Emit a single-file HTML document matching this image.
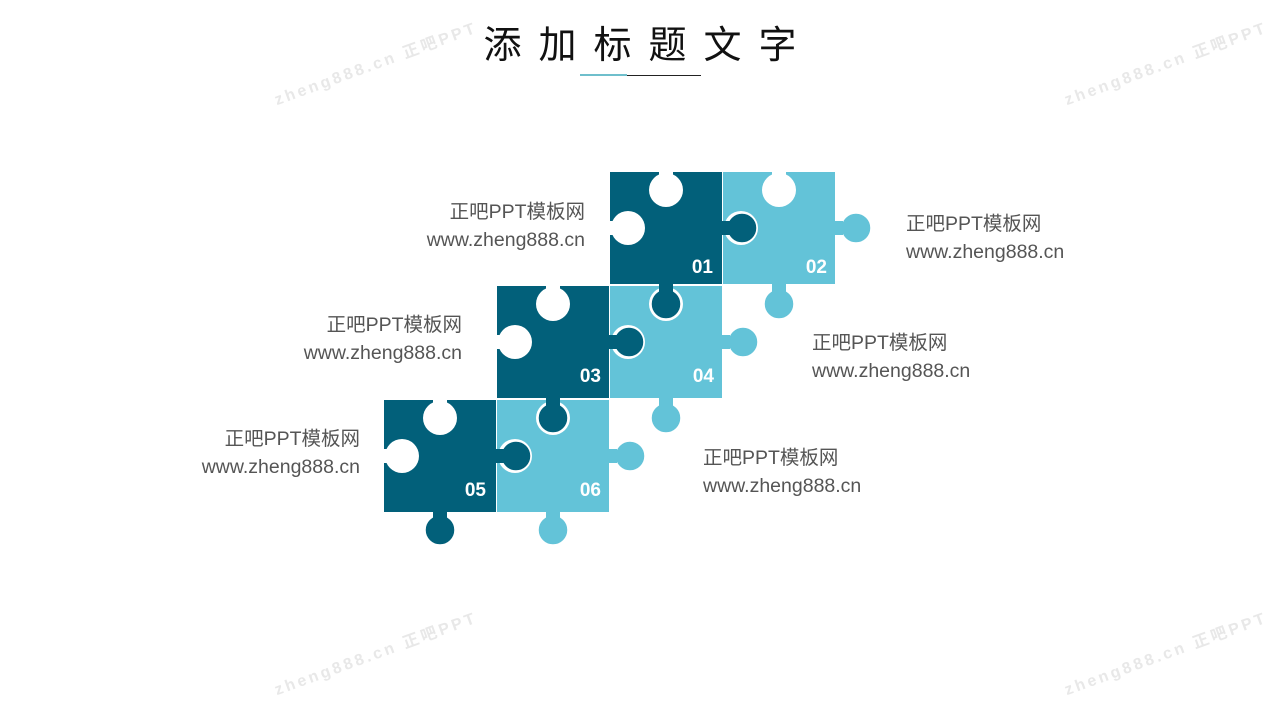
<!DOCTYPE html>
<html><head><meta charset="utf-8"><style>
body{margin:0;width:1280px;height:720px;background:#fff;overflow:hidden;position:relative;font-family:"Liberation Sans","Noto Sans CJK SC",sans-serif}
.t{position:absolute;font-size:19.5px;color:#555;line-height:28px}
.r{text-align:right}
.wm{position:absolute;font-size:16px;color:#e8e8e8;font-weight:bold;letter-spacing:3px;transform:rotate(-20deg);white-space:nowrap}
</style></head><body>
<div class="wm" style="left:268px;top:50px">zheng888.cn 正吧PPT</div>
<div class="wm" style="left:1058px;top:50px">zheng888.cn 正吧PPT</div>
<div class="wm" style="left:268px;top:640px">zheng888.cn 正吧PPT</div>
<div class="wm" style="left:1058px;top:640px">zheng888.cn 正吧PPT</div>
<div style="position:absolute;left:0;width:1280px;top:14px;text-align:center;font-size:38px;letter-spacing:17px;color:#111;padding-left:17px;box-sizing:border-box">添加标题文字</div>
<div style="position:absolute;left:580px;top:74px;width:47px;height:2px;background:#6fbfcc"></div>
<div style="position:absolute;left:627px;top:75px;width:74px;height:1px;background:#222"></div>
<svg width="1280" height="720" style="position:absolute;left:0;top:0">
<g>
<rect x="610" y="172" width="112" height="112" fill="#02607a"/>
<rect x="723" y="172" width="112" height="112" fill="#63c3d8"/>
<rect x="497" y="286" width="112" height="112" fill="#02607a"/>
<rect x="610" y="286" width="112" height="112" fill="#63c3d8"/>
<rect x="384" y="400" width="112" height="112" fill="#02607a"/>
<rect x="497" y="400" width="112" height="112" fill="#63c3d8"/>
</g>
<g fill="#fff">
<circle cx="666" cy="190" r="17"/><rect x="659" y="172" width="14" height="8"/><circle cx="628" cy="228" r="17"/><rect x="610" y="221" width="8" height="14"/>
<circle cx="779" cy="190" r="17"/><rect x="772" y="172" width="14" height="8"/><circle cx="741" cy="228" r="17"/><rect x="723" y="221" width="8" height="14"/>
<circle cx="553" cy="304" r="17"/><rect x="546" y="286" width="14" height="8"/><circle cx="515" cy="342" r="17"/><rect x="497" y="335" width="8" height="14"/>
<circle cx="666" cy="304" r="17"/><rect x="659" y="286" width="14" height="8"/><circle cx="628" cy="342" r="17"/><rect x="610" y="335" width="8" height="14"/>
<circle cx="440" cy="418" r="17"/><rect x="433" y="400" width="14" height="8"/><circle cx="402" cy="456" r="17"/><rect x="384" y="449" width="8" height="14"/>
<circle cx="553" cy="418" r="17"/><rect x="546" y="400" width="14" height="8"/><circle cx="515" cy="456" r="17"/><rect x="497" y="449" width="8" height="14"/>
</g>
<g stroke="#fff" stroke-width="1.5">
<g fill="#02607a">
<circle cx="742" cy="228" r="15"/><circle cx="666" cy="304" r="15"/>
<circle cx="629" cy="342" r="15"/><circle cx="553" cy="418" r="15"/>
<circle cx="516" cy="456" r="15"/><circle cx="440" cy="530" r="15"/>
</g>
<g fill="#63c3d8">
<circle cx="856" cy="228" r="15"/><circle cx="779" cy="304" r="15"/>
<circle cx="743" cy="342" r="15"/><circle cx="666" cy="418" r="15"/>
<circle cx="630" cy="456" r="15"/><circle cx="553" cy="530" r="15"/>
</g>
</g>
<g>
<rect x="718" y="221" width="12" height="14" fill="#02607a"/>
<rect x="659" y="280" width="14" height="12" fill="#02607a"/>
<rect x="605" y="335" width="12" height="14" fill="#02607a"/>
<rect x="546" y="394" width="14" height="12" fill="#02607a"/>
<rect x="492" y="449" width="12" height="14" fill="#02607a"/>
<rect x="433" y="508" width="14" height="12" fill="#02607a"/>
<rect x="831" y="221" width="12" height="14" fill="#63c3d8"/>
<rect x="772" y="280" width="14" height="12" fill="#63c3d8"/>
<rect x="718" y="335" width="12" height="14" fill="#63c3d8"/>
<rect x="659" y="394" width="14" height="12" fill="#63c3d8"/>
<rect x="605" y="449" width="12" height="14" fill="#63c3d8"/>
<rect x="546" y="508" width="14" height="12" fill="#63c3d8"/>
</g>
<g fill="#fff" font-family="Liberation Sans" font-weight="bold" font-size="19" text-anchor="end">
<text x="713" y="273">01</text><text x="827" y="273">02</text>
<text x="601" y="382">03</text><text x="714" y="382">04</text>
<text x="486" y="496">05</text><text x="601" y="496">06</text>
</g>
</svg>
<div class="t r" style="right:695px;top:198px">正吧PPT模板网<br>www.zheng888.cn</div>
<div class="t r" style="right:818px;top:311px">正吧PPT模板网<br>www.zheng888.cn</div>
<div class="t r" style="right:920px;top:425px">正吧PPT模板网<br>www.zheng888.cn</div>
<div class="t" style="left:906px;top:210px">正吧PPT模板网<br>www.zheng888.cn</div>
<div class="t" style="left:812px;top:329px">正吧PPT模板网<br>www.zheng888.cn</div>
<div class="t" style="left:703px;top:444px">正吧PPT模板网<br>www.zheng888.cn</div>
</body></html>
